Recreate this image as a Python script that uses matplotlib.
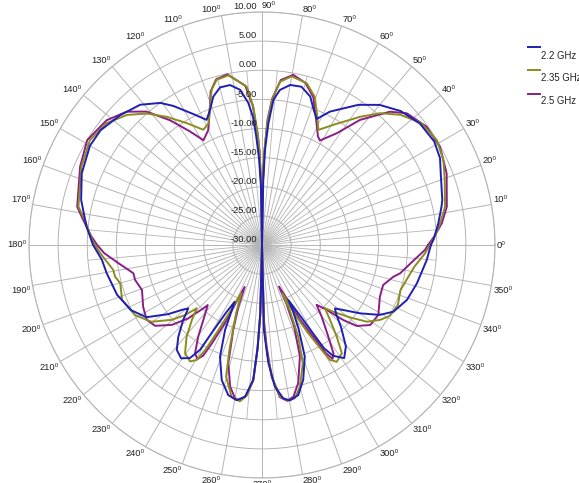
import numpy as np
import matplotlib
matplotlib.use("Agg")
import matplotlib.pyplot as plt
from matplotlib.lines import Line2D
from matplotlib.transforms import offset_copy

plt.rcParams['font.family'] = ['Liberation Sans', 'DejaVu Sans']

# ---------------- data (angle in degrees, gain in dB) ----------------
SERIES_NAMES = ["2.2 GHz", "2.35 GHz", "2.5 GHz"]

ANGLE_22 = [0, 2, 7, 12, 14, 21, 26, 31, 37.5, 44, 50, 55.5, 63, 66.5, 69, 72, 76, 80, 83.4, 85.5, 87, 88.2, 88.9, 90,
            91, 92, 93, 94, 95.5, 98, 101.3, 104.9, 108.2, 111.1, 113.9, 117.7, 122.5, 125.6, 131, 137.5, 144.6, 150, 158.3, 166, 174, 180,
            185.3, 190.3, 199, 206.5, 212, 216.4, 219, 220.7, 223.6, 227.6, 230.9, 234.5, 237.5, 239.4, 240.4, 242.1, 244.3, 246.5, 249.4, 253.4, 257.3, 260.7, 263.6, 266.3, 267.6, 268.6, 270,
            271.3, 273.1, 275.2, 277.9, 280.2, 283.6, 287, 291, 293.6, 295.2, 295.6, 297.8, 299.8, 301, 302.7, 306, 309.6, 314, 317, 319, 321.4, 325.1, 329.3, 333.1, 339.2, 346.1, 354.8, 360]
GAIN_22 = [-1.0, -0.5, 0.5, 1.5, 1.9, 2.9, 4.0, 4.5, 4.2, 3.1, 1.4, -0.8, -4.3, -6.4, -5.2, -3.2, -2.0, -2.1, -3.2, -5.0, -9.1, -13.7, -18.8, -30,
           -20, -15, -11.5, -8.0, -5.5, -3.1, -2.0, -2.0, -3.2, -5.2, -6.5, -4.6, -1.7, 0.0, 1.9, 3.0, 4.0, 4.1, 3.3, 2.0, 0.3, -1.0,
           -2.4, -2.9, -3.7, -4.9, -6.6, -10.0, -12.3, -13.3, -11.3, -8.7, -6.8, -6.1, -7.0, -9.1, -13.2, -17.0, -19.2, -14.1, -9.5, -5.8, -3.6, -3.0, -3.8, -6.8, -12.5, -18.3, -30,
           -15.4, -9.7, -5.6, -3.4, -2.9, -3.5, -5.8, -9.5, -14.3, -17.6, -19.5, -17.0, -13.0, -9.3, -7.4, -6.0, -7.4, -10.5, -12.6, -13.4, -12.1, -9.5, -6.5, -4.7, -3.4, -2.6, -1.6, -1.0]

ANGLE_235 = [0, 1.7, 6.9, 11.8, 19.6, 25.1, 31, 37.6, 43.3, 48.1, 52.6, 59.3, 63.9, 66.7, 70.4, 74.5, 80, 83.7, 86, 87.5, 88.6, 89.3, 90,
             90.7, 91.5, 92.2, 93.6, 95.5, 101.2, 105.4, 108, 110.6, 113.8, 117, 121.7, 126.6, 131.2, 136.1, 141.9, 148.6, 156.5, 168.2, 172, 178.3,
             182.9, 186.8, 189.5, 192.2, 195.1, 201.4, 208.9, 214.8, 219.7, 222.3, 224.1, 226.9, 230.6, 234.6, 238.3, 240.4, 241.6, 242.7, 244.2, 246.8, 249.2, 252.5, 254.7, 258.7, 261.9, 264.2, 266.3, 267.5, 268.6, 270,
             271.4, 272.8, 274.5, 276.9, 279.6, 282.1, 285, 289, 291.6, 293.0, 292.8, 295.3, 297.6, 299.5, 300.6, 302.6, 306.4, 309.2, 312.2, 314.9, 316.9, 320.6, 323.8, 327.6, 331, 336.2, 341.9, 347, 351.8, 357, 360]
GAIN_235 = [-1.2, -0.6, 0.8, 2.1, 3.3, 4.4, 5.0, 4.4, 2.6, 0.4, -2.3, -6.0, -8.0, -6.0, -3.0, -1.2, -0.6, -1.8, -5.0, -9.0, -14.0, -20.0, -30,
            -20.0, -14.0, -11.0, -6.2, -2.7, -0.3, -0.6, -2.0, -4.6, -7.2, -7.8, -5.4, -2.6, 0.0, 2.2, 3.9, 4.6, 3.8, 2.2, 0.7, -0.8,
            -2.2, -3.4, -4.1, -4.2, -4.8, -4.2, -5.1, -6.9, -9.9, -12.1, -14.4, -12.4, -9.6, -7.2, -6.5, -7.3, -9.5, -13.0, -17.0, -21.0, -17.5, -11.7, -6.6, -3.4, -2.9, -4.0, -6.8, -12.0, -18.0, -30,
            -16.0, -11.0, -7.0, -3.8, -2.9, -3.1, -4.8, -8.5, -13.1, -17.8, -21.0, -17.0, -13.0, -9.5, -7.1, -6.2, -6.9, -9.7, -12.6, -14.7, -13.2, -10.4, -7.7, -6.0, -4.9, -4.5, -5.0, -4.4, -3.6, -2.0, -1.2]

ANGLE_25 = [0, 2.8, 6.9, 11.7, 21.2, 28.9, 35.7, 42.3, 46.2, 51.9, 56.2, 61, 62.8, 66.6, 70.9, 75, 79.6, 83.5, 86, 87.5, 88.5, 89.3, 90,
            90.7, 91.5, 92.2, 93.8, 96, 101.5, 105.5, 108.5, 111, 115, 119.2, 122.4, 126.4, 130.9, 135.4, 141.2, 149, 156.7, 168.3, 172, 177.2,
            180, 183, 187.3, 192.4, 195.4, 200.5, 207.5, 213, 217.1, 221.5, 224.8, 227.2, 227.9, 231.9, 235.2, 238.3, 240.5, 242, 243, 244.5, 247.5, 249, 251.3, 254.1, 257.3, 260, 262, 264.2, 266.3, 267.5, 268.5, 270,
            271.5, 272.6, 274.2, 276.7, 279.2, 281.7, 284.7, 288.8, 291.5, 292.6, 292.2, 297, 299.5, 300.5, 301.8, 303.4, 305.9, 309.8, 312.4, 314.9, 317.3, 319.5, 323.5, 329, 336.3, 341.7, 346.4, 348.4, 353.5, 358.3, 360]
GAIN_25 = [-1.5, -0.4, 1.1, 2.4, 4.0, 4.9, 4.8, 3.6, 1.7, -2.7, -6.9, -9.5, -9.0, -6.6, -3.1, -1.2, -0.3, -1.5, -4.8, -8.5, -14.0, -20.0, -30,
           -20.0, -14.0, -11.0, -6.0, -2.5, -0.1, -0.5, -2.2, -5.0, -8.2, -9.4, -6.9, -3.4, 0.3, 2.6, 4.2, 5.0, 4.0, 2.4, 1.0, -0.7,
           -1.7, -2.9, -5.2, -7.4, -7.4, -8.0, -7.0, -6.4, -7.0, -9.3, -12.1, -15.2, -16.1, -13.7, -10.8, -8.1, -7.5, -8.5, -11.0, -15.0, -22.2, -18.7, -14.6, -8.9, -5.1, -3.3, -3.0, -4.1, -6.8, -12.0, -18.0, -30,
           -17.0, -12.5, -7.3, -3.7, -2.9, -3.4, -5.5, -9.8, -14.9, -19.1, -22.3, -15.6, -11.2, -8.5, -7.0, -7.7, -10.6, -14.0, -16.1, -14.3, -11.0, -8.6, -6.9, -6.7, -7.9, -8.1, -6.8, -5.8, -4.1, -2.0, -1.5]

R_TICKS = [-30, -25, -20, -15, -10, -5, 0, 5, 10]
THETA_TICKS = list(range(0, 360, 10))

# ---------------- style ----------------
COLORS = ["#1f1fb4", "#8c8c1e", "#8a1e86"]
GRID = "#b4b4b4"
TXT = "#222222"
W, H = 579, 483
CX, CY, RPX = 262, 245, 233
RMIN, RMAX = -30, 10

fig = plt.figure(figsize=(W / 100, H / 100), dpi=100)
ax = fig.add_axes([(CX - RPX) / W, (H - CY - RPX) / H, 2 * RPX / W, 2 * RPX / H],
                  projection='polar')
ax.set_ylim(RMIN, RMAX)
ax.set_xticks(np.deg2rad(THETA_TICKS))
ax.set_yticks(R_TICKS[1:])
ax.set_xticklabels([])
ax.set_yticklabels([])
ax.tick_params(length=0)
ax.grid(True, color=GRID, lw=0.7)
ax.spines['polar'].set_color(GRID)
ax.spines['polar'].set_linewidth(0.8)

# minor spokes every 5 degrees in the inner part
for t in range(5, 360, 10):
    ax.plot([np.deg2rad(t)] * 2, [RMIN, 0], color=GRID, lw=0.6, zorder=1)

# curves
series = [(ANGLE_25, GAIN_25, COLORS[2]), (ANGLE_235, GAIN_235, COLORS[1]), (ANGLE_22, GAIN_22, COLORS[0])]
for ang, gain, col in series:
    ax.plot(np.deg2rad(ang), gain, color=col, lw=1.4, zorder=3,
            solid_joinstyle='round', solid_capstyle='round')

FS = 6.7
# radial labels
tr = offset_copy(ax.transData, fig=fig, x=-5, y=5.3, units='dots')
for v in R_TICKS:
    ax.text(np.pi / 2, v, f"{v:.2f}", ha='right', va='center', fontsize=FS, color=TXT,
            transform=tr, zorder=5)

# angle labels
r_lab = RMIN + 235 * (RMAX - RMIN) / RPX
for a in THETA_TICKS:
    th = np.deg2rad(a)
    c, s = np.cos(th), np.sin(th)
    if a == 90:
        ha, va = 'left', 'bottom'
    elif a == 270:
        ha, va = 'center', 'top'
    else:
        ha = 'left' if c > 0.01 else ('right' if c < -0.01 else 'center')
        va = 'bottom' if s > 0.01 else ('top' if s < -0.01 else 'center')
    ax.text(th, r_lab, f"{a}\u2070", ha=ha, va=va, fontsize=FS, color=TXT, clip_on=False)

# legend
leg_line_y = [47, 70, 94]
leg_text_y = [56, 78, 101]
for name, col, ly, ty in zip(SERIES_NAMES, COLORS, leg_line_y, leg_text_y):
    fig.add_artist(Line2D([528 / W, 540 / W], [1 - ly / H] * 2, color=col, lw=1.4))
    fig.text(541 / W, 1 - ty / H, name, fontsize=6.9, va='center', ha='left', color=TXT)

fig.savefig("out.png", dpi=100)
